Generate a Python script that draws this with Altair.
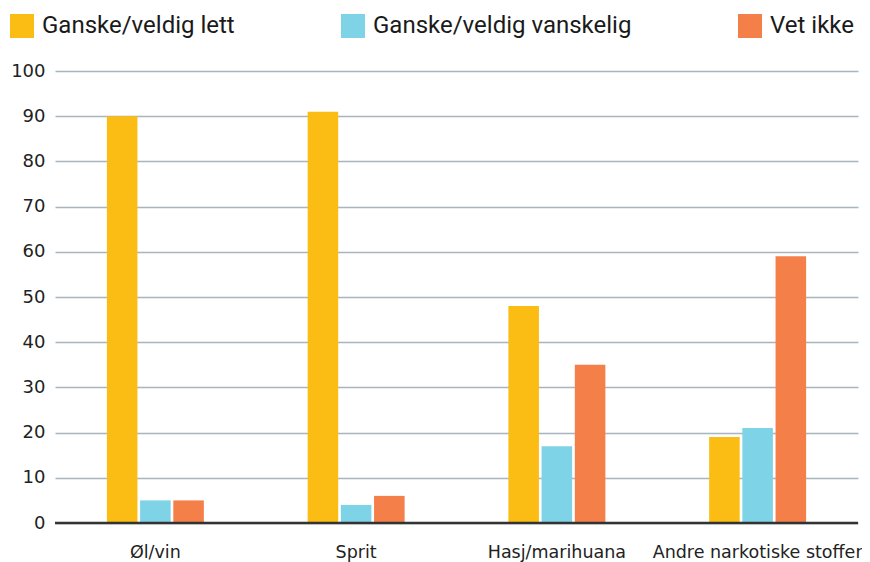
import altair as alt
import pandas as pd

categories = ["Øl/vin", "Sprit", "Hasj/marihuana", "Andre narkotiske stoffer"]
series = ["Ganske/veldig lett", "Ganske/veldig vanskelig", "Vet ikke"]
lett = [90, 91, 48, 19]
vanskelig = [5, 4, 17, 21]
vet_ikke = [5, 6, 35, 59]
colors = ["#FBBD14", "#7FD3E6", "#F47F48"]
y_ticks = [0, 10, 20, 30, 40, 50, 60, 70, 80, 90, 100]

rows = []
for i, c in enumerate(categories):
    for s, vals in zip(series, [lett, vanskelig, vet_ikke]):
        rows.append({"kategori": c, "serie": s, "verdi": vals[i]})
df = pd.DataFrame(rows)

FONT = "DejaVu Sans"

bars = alt.Chart(df).mark_bar().encode(
    x=alt.X("kategori:N", sort=categories, title=None,
            scale=alt.Scale(paddingInner=0.517, paddingOuter=0.2585),
            axis=alt.Axis(labelAngle=0, domain=False, ticks=False, labelFontSize=17.5,
                          labelFont=FONT, labelColor="#222222", labelPadding=20,
                          labelLimit=0, labelOverlap=False)),
    xOffset=alt.XOffset("serie:N", sort=series, scale=alt.Scale(paddingInner=0.08)),
    y=alt.Y("verdi:Q", title=None,
            scale=alt.Scale(domain=[0, 100], nice=False),
            axis=alt.Axis(values=y_ticks, domain=False, ticks=False, labelFontSize=18,
                          labelFont=FONT, labelColor="#222222", labelPadding=10,
                          gridColor="#A9B5BD", gridWidth=1.5)),
    color=alt.Color("serie:N", sort=series,
                    scale=alt.Scale(domain=series, range=colors),
                    legend=alt.Legend(title=None, orient="none", direction="horizontal",
                                      legendX=-45, legendY=-57, symbolType="square",
                                      symbolSize=576, symbolStrokeWidth=0,
                                      labelFontSize=24, labelFont="Roboto",
                                      labelColor="#1a1a1a", labelOffset=8,
                                      columnPadding=106, labelLimit=400)),
)

zero = alt.Chart(pd.DataFrame({"y": [0]})).mark_rule(color="#333333", strokeWidth=2.5).encode(
    y="y:Q"
)

chart = alt.layer(bars, zero).properties(
    width=803, height=452,
    autosize=alt.AutoSizeParams(type="none"),
    padding={"left": 47, "top": 63, "right": 4, "bottom": 45},
).configure_view(stroke=None)

chart.save("out.html", embed_options={"renderer": "svg", "actions": False})
